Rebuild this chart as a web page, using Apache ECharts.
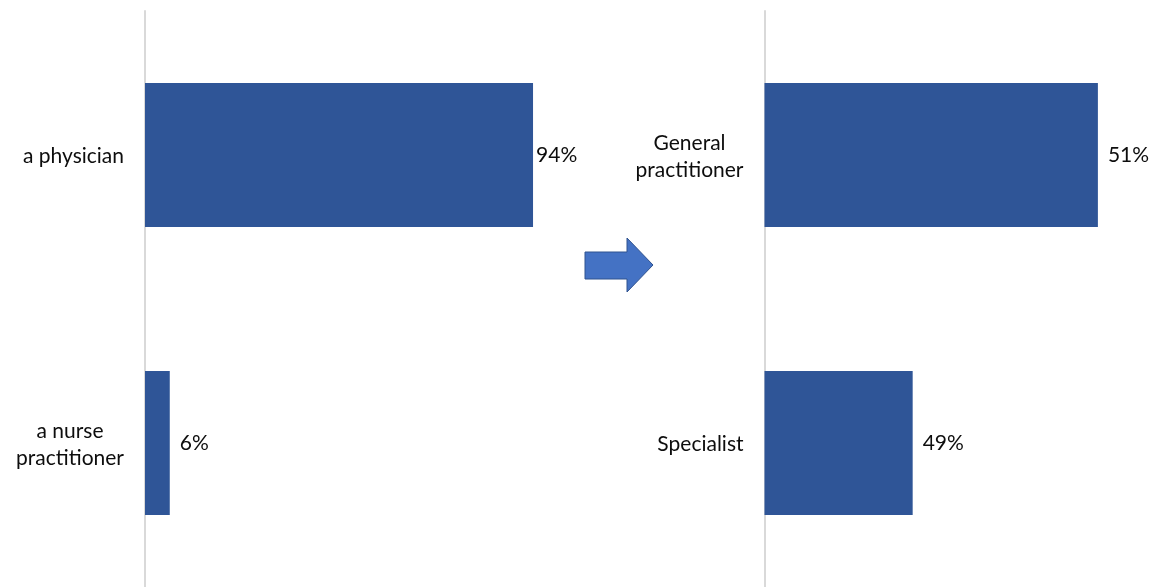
<!DOCTYPE html>
<html>
<head>
<meta charset="utf-8">
<script src="https://cdn.jsdelivr.net/npm/echarts@6/dist/echarts.min.js"></script>
<style>html,body{margin:0;padding:0;background:#fff}#c{width:1153px;height:587px}</style>
</head>
<body>
<div id="c"></div>
<script>
var leftCategories = ['a physician', 'a nurse\npractitioner'];
var leftValues = [94, 6];
var rightCategories = ['General\npractitioner', 'Specialist'];
var rightValues = [51, 49];

var FONT = 'Lato';
var BAR = '#2F5597';
var AXIS = '#D9D9D9';

function yAxisOf(cats, gi) {
  return {
    type: 'category', gridIndex: gi, data: cats, inverse: true,
    axisTick: { show: false },
    axisLine: { show: true, lineStyle: { color: AXIS, width: 2 } },
    axisLabel: {
      margin: 21, align: 'right',
      formatter: function (v) { return '{t|' + v + '}'; },
      rich: { t: { fontFamily: FONT, fontSize: 21, color: '#0d0d0d', align: 'center', lineHeight: 27, padding: [3, 0, 0, 0] } }
    }
  };
}
function labelOf(d) {
  return {
    show: true, position: 'right', distance: d,
    fontFamily: FONT, fontSize: 21, color: '#0d0d0d',
    formatter: function (p) { return p.value + '%'; }
  };
}

var chart = echarts.init(document.getElementById('c'), null, { renderer: 'canvas' });
chart.setOption({
  animation: false,
  backgroundColor: '#fff',
  grid: [
    { left: 145, top: 11, width: 412.8, height: 576 },
    { left: 764.5, top: 11, width: 379.7, height: 576 }
  ],
  xAxis: [
    { type: 'value', gridIndex: 0, min: 0, max: 100, show: false },
    { type: 'value', gridIndex: 1, min: 47.4, max: 51.5, show: false }
  ],
  yAxis: [yAxisOf(leftCategories, 0), yAxisOf(rightCategories, 1)],
  series: [
    {
      type: 'bar', xAxisIndex: 0, yAxisIndex: 0, barCategoryGap: '50%',
      itemStyle: { color: BAR },
      data: leftValues.map(function (v, i) { return { value: v, label: labelOf(i === 0 ? 3 : 10) }; })
    },
    {
      type: 'bar', xAxisIndex: 1, yAxisIndex: 1, barCategoryGap: '50%',
      itemStyle: { color: BAR },
      label: labelOf(10),
      data: rightValues
    }
  ],
  graphic: [{
    type: 'polygon',
    shape: { points: [[585, 252], [627, 252], [627, 238], [653, 265], [627, 292], [627, 279], [585, 279]] },
    style: { fill: '#4472C4', stroke: '#2F528F', lineWidth: 1 }
  }]
});
</script>
</body>
</html>
